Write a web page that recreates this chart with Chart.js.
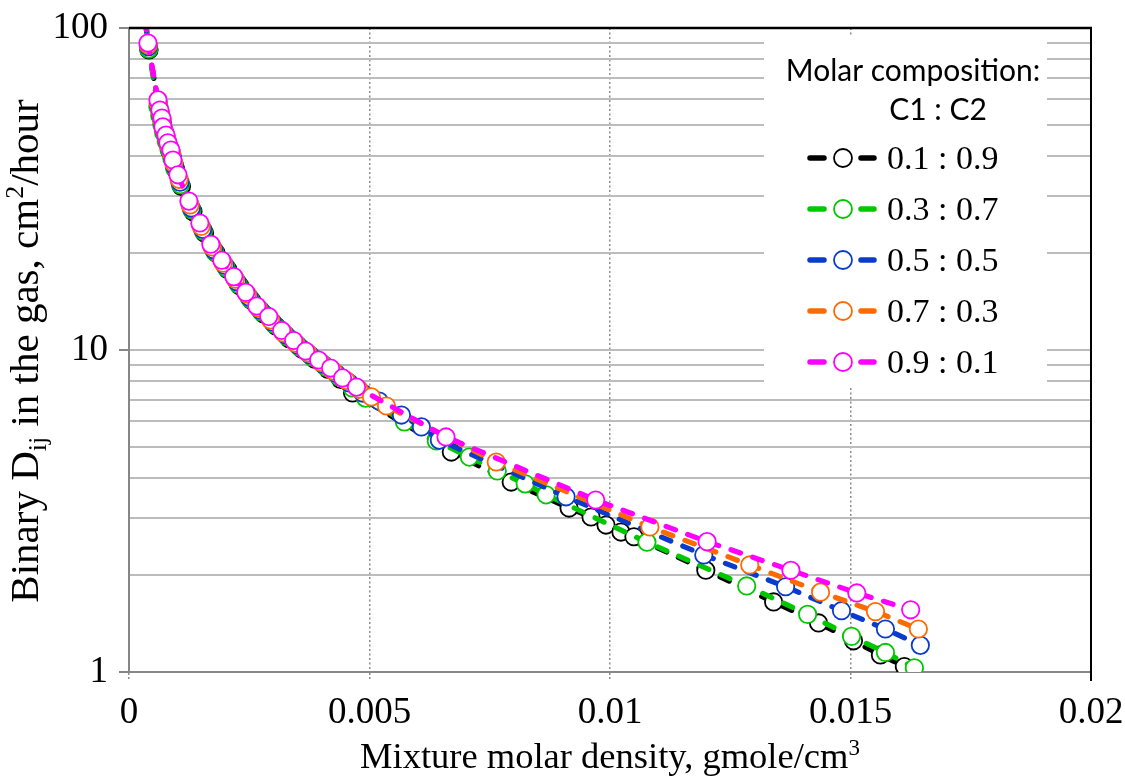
<!DOCTYPE html>
<html><head><meta charset="utf-8">
<script src="https://cdn.jsdelivr.net/npm/chart.js@4.4.1/dist/chart.umd.min.js"></script>
<style>html,body{margin:0;padding:0;background:#fff}#wrap{width:1125px;height:777px;position:relative}</style>
</head><body><div id="wrap"><canvas id="c" width="1125" height="777"></canvas></div>
<script>
// ---- data ----
const seriesNames = ['0.1 : 0.9', '0.3 : 0.7', '0.5 : 0.5', '0.7 : 0.3', '0.9 : 0.1'];
const seriesColors = ['#000000', '#00c800', '#0a3ccc', '#ff6a00', '#ff00ff'];
const legendTitle = ['Molar composition:', 'C1 : C2'];
const xTickValues = [0, 0.005, 0.01, 0.015, 0.02];
const xTickLabels = ['0', '0.005', '0.01', '0.015', '0.02'];
const yGridValues = [1,2,3,4,5,6,7,8,9,10,20,30,40,50,60,70,80,90,100];
const yTickValues = [1, 10, 100];
const xTitle = 'Mixture molar density, gmole/cm';
const xTitleSup = '3';
const yTitleParts = ['Binary D', 'ij', ' in the gas, cm', '2', '/hour'];

// density (gmole/cm3) and binary diffusion coefficient (cm2/hour)
const dens01 = [0.00029,0.000415,0.00062,0.00066,0.0007,0.00074,0.000795,0.00085,0.00091,0.000965,0.00109,0.00133,0.00157,0.00181,0.00205,0.0023,0.00255,0.0028,0.00306,0.00333,0.0036,0.00387,0.00414,0.0044,0.004647,0.006701,0.007946,0.009149,0.009606,0.009917,0.010228,0.010498,0.011992,0.013402,0.014336,0.015062,0.015622,0.01612];
const diff01 = [122,85.5,56.5,53.0,50.0,47.0,44.0,41.5,39.0,36.4,32.2,26.9,23.1,20.0,17.8,15.85,14.25,12.95,11.85,10.85,10.05,9.35,8.70,8.10,7.36,4.82,3.89,3.23,3.03,2.86,2.72,2.63,2.07,1.65,1.42,1.25,1.13,1.04];

const dens03 = [0.00029,0.00041,0.0006,0.00064,0.00068,0.00072,0.000775,0.00083,0.00089,0.000945,0.00107,0.00131,0.001545,0.00178,0.00202,0.00227,0.00252,0.00276,0.00302,0.00329,0.00355,0.00381,0.00409,0.00437,0.00464,0.004917,0.005726,0.00639,0.007075,0.007656,0.008237,0.008672,0.010768,0.012842,0.014108,0.015021,0.015726,0.016328];
const diff03 = [123,86.0,57.0,53.5,50.3,47.3,44.5,42.0,39.4,36.8,32.6,27.2,23.4,20.2,18.0,16.0,14.4,13.1,12.0,11.0,10.2,9.5,8.85,8.25,7.62,7.09,5.98,5.22,4.65,4.21,3.84,3.55,2.53,1.85,1.51,1.29,1.15,1.03];

const dens05 = [0.00028,0.000405,0.000615,0.000655,0.000695,0.00073,0.00079,0.00084,0.0009,0.00095,0.00106,0.001295,0.00153,0.00176,0.001995,0.002245,0.002495,0.00273,0.002985,0.003255,0.00351,0.003765,0.00404,0.00431,0.00458,0.00486,0.0052,0.005664,0.006079,0.006452,0.009087,0.01195,0.013651,0.014813,0.015726,0.016452];
const diff05 = [124,87.5,57.8,54.0,51.0,48.0,45.0,42.5,40.0,37.3,33.2,27.6,23.7,20.5,18.3,16.3,14.6,13.3,12.2,11.15,10.35,9.65,9.02,8.45,7.90,7.35,6.94,6.28,5.77,5.25,3.50,2.31,1.84,1.55,1.36,1.21];

const dens07 = [0.00028,0.0004,0.00061,0.00065,0.00069,0.00072,0.00078,0.000825,0.000885,0.00093,0.00104,0.00127,0.0015,0.00173,0.00196,0.00221,0.00246,0.00269,0.002945,0.00321,0.003465,0.003715,0.00399,0.00425,0.00451,0.00478,0.005041,0.005353,0.007635,0.01083,0.012905,0.014378,0.015519,0.016411];
const diff07 = [125,88.5,58.5,54.8,51.6,48.6,45.6,43.1,40.8,38.0,33.9,28.2,24.2,20.9,18.6,16.6,14.9,13.5,12.4,11.3,10.5,9.80,9.15,8.60,8.05,7.55,7.15,6.70,4.49,2.82,2.15,1.77,1.54,1.36];

const dens09 = [0.00028,0.000394,0.000602,0.000643,0.000685,0.000705,0.000768,0.000809,0.000871,0.000913,0.001017,0.001245,0.001473,0.001701,0.001929,0.002178,0.002427,0.002656,0.002905,0.003174,0.003423,0.003672,0.003942,0.004191,0.00444,0.00473,0.006591,0.009703,0.012019,0.013761,0.015131,0.016251];
const diff09 = [125,89.8,59.8,55.6,52.5,49.3,46.5,44.0,41.8,38.9,35.0,29.0,24.8,21.3,19.0,16.9,15.1,13.7,12.7,11.5,10.7,9.93,9.31,8.79,8.19,7.67,5.37,3.42,2.54,2.07,1.76,1.56];

const seriesX = [dens01, dens03, dens05, dens07, dens09];
const seriesY = [diff01, diff03, diff05, diff07, diff09];

// ---- chart ----
const SERIF = '"Liberation Serif", "Times New Roman", serif';
const datasets = seriesNames.map((name, i) => ({
  label: name,
  data: seriesX[i].map((x, j) => ({x: x, y: seriesY[i][j]})),
  borderColor: seriesColors[i],
  backgroundColor: '#ffffff',
  pointBackgroundColor: '#ffffff',
  pointBorderColor: seriesColors[i],
  pointRadius: 8.7,
  pointHoverRadius: 8.7,
  pointBorderWidth: 1.8,
  borderWidth: 5.2,
  borderDash: [10, 13],
  borderCapStyle: 'round',
  tension: 0,
  fill: false,
  order: seriesNames.length - i
}));

function drawParts(ctx, parts, x, y) {
  let total = 0;
  parts.forEach(p => { ctx.font = p.size + 'px ' + SERIF; p.w = ctx.measureText(p.t).width; total += p.w; });
  let cx = x - total / 2;
  ctx.textAlign = 'left';
  ctx.textBaseline = 'alphabetic';
  parts.forEach(p => { ctx.font = p.size + 'px ' + SERIF; ctx.fillText(p.t, cx, y + p.dy); cx += p.w; });
}

const decor = {
  id: 'decor',
  beforeDraw(chart) {
    const ctx = chart.ctx;
    ctx.save(); ctx.fillStyle = '#ffffff'; ctx.fillRect(0, 0, chart.width, chart.height); ctx.restore();
  },
  afterDraw(chart) {
    const ctx = chart.ctx;
    const a = chart.chartArea;
    ctx.save();
    ctx.setLineDash([]);
    // top & right borders
    ctx.strokeStyle = '#000000';
    ctx.lineWidth = 2.5;
    ctx.beginPath(); ctx.moveTo(a.left, a.top); ctx.lineTo(a.right + 1, a.top); ctx.stroke();
    ctx.lineWidth = 2;
    ctx.beginPath(); ctx.moveTo(a.right, a.top); ctx.lineTo(a.right, a.bottom + 9); ctx.stroke();

    // legend
    ctx.fillStyle = '#ffffff';
    ctx.fillRect(764, 35, 283, 353);
    ctx.fillStyle = '#000000';
    ctx.font = '30px Lato, "Open Sans", sans-serif';
    ctx.textAlign = 'center';
    ctx.textBaseline = 'alphabetic';
    ctx.fillText(legendTitle[0], 913, 81);
    ctx.fillText(legendTitle[1], 938, 120);
    chart.data.datasets.forEach((ds, i) => {
      const yc = 158 + i * 51;
      ctx.strokeStyle = ds.borderColor;
      ctx.lineWidth = 5.5;
      ctx.lineCap = 'round';
      ctx.beginPath(); ctx.moveTo(810, yc); ctx.lineTo(824, yc); ctx.moveTo(861, yc); ctx.lineTo(874, yc); ctx.stroke();
      ctx.beginPath(); ctx.arc(843, yc, 9, 0, Math.PI * 2);
      ctx.fillStyle = '#ffffff'; ctx.fill();
      ctx.lineWidth = 1.8; ctx.stroke();
      ctx.fillStyle = '#000000';
      ctx.font = '34px ' + SERIF;
      ctx.textAlign = 'left';
      ctx.fillText(ds.label, 887, yc + 11);
    });

    // axis titles
    ctx.fillStyle = '#000000';
    drawParts(ctx, [{t: xTitle, size: 36.5, dy: 0}, {t: xTitleSup, size: 23, dy: -13}], (a.left + a.right) / 2, 768);
    ctx.save();
    ctx.translate(38, 351);
    ctx.rotate(-Math.PI / 2);
    drawParts(ctx, [
      {t: yTitleParts[0], size: 41, dy: 0},
      {t: yTitleParts[1], size: 26, dy: 8},
      {t: yTitleParts[2], size: 41, dy: 0},
      {t: yTitleParts[3], size: 26, dy: -15},
      {t: yTitleParts[4], size: 41, dy: 0}
    ], 0, 0);
    ctx.restore();
    ctx.restore();
  }
};

new Chart(document.getElementById('c'), {
  type: 'line',
  data: {datasets: datasets},
  plugins: [decor],
  options: {
    responsive: false,
    animation: false,
    events: [],
    layout: {padding: {left: 0, top: 28, right: 34, bottom: 0}},
    plugins: {legend: {display: false}, tooltip: {enabled: false}, title: {display: false}},
    scales: {
      x: {
        type: 'linear', min: 0, max: 0.02,
        afterBuildTicks: s => { s.ticks = xTickValues.map(v => ({value: v})); },
        afterFit: s => { s.height = 105; s.paddingLeft = 0; s.paddingRight = 0; },
        ticks: {autoSkip: false, maxRotation: 0, color: '#000', padding: 10,
          font: {family: SERIF, size: 37},
          callback: (v, i) => xTickLabels[i]},
        grid: {
          color: c => (c.tick && (c.tick.value === 0 || c.tick.value === 0.02)) ? 'rgba(0,0,0,0)' : '#8c8c8c',
          lineWidth: 1.5, tickLength: 9, tickColor: '#8c8c8c', tickBorderDash: [2, 2]
        },
        border: {display: true, color: '#888888', width: 2, dash: [2, 2.5]}
      },
      y: {
        type: 'logarithmic', min: 1, max: 100,
        afterBuildTicks: s => { s.ticks = yGridValues.map(v => ({value: v, major: yTickValues.includes(v)})); },
        afterFit: s => { s.width = 129; s.paddingTop = 0; s.paddingBottom = 0; },
        ticks: {autoSkip: false, color: '#000', padding: 11,
          font: {family: SERIF, size: 37},
          callback: v => yTickValues.includes(v) ? String(v) : ''},
        grid: {
          color: c => (c.tick && (c.tick.value === 1 || c.tick.value === 100)) ? 'rgba(0,0,0,0)' : '#bcbcbc',
          lineWidth: 2, tickLength: 10,
          tickColor: c => (c.tick && yTickValues.includes(c.tick.value)) ? '#868686' : 'rgba(0,0,0,0)'
        },
        border: {display: true, color: '#868686', width: 2}
      }
    }
  }
});
</script>
</body></html>
